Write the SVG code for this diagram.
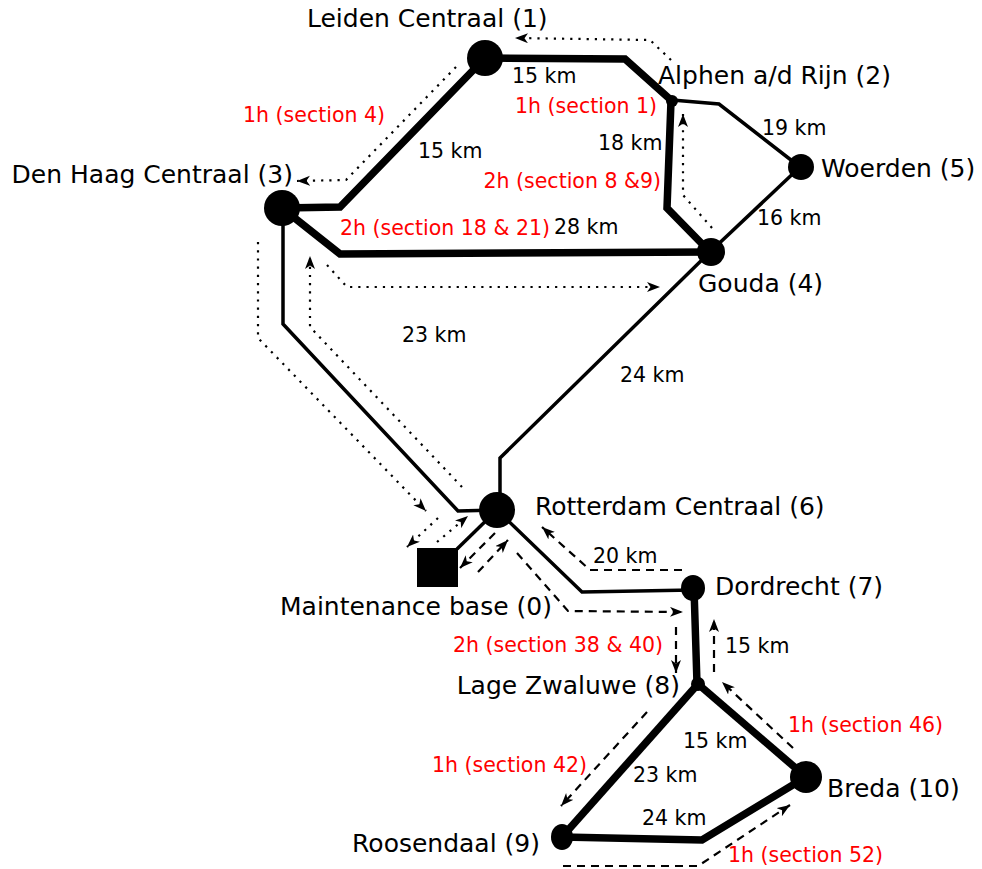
<svg xmlns="http://www.w3.org/2000/svg" width="982" height="869" viewBox="0 0 982 869">
<defs>
<marker id="arr" markerUnits="userSpaceOnUse" markerWidth="14" markerHeight="11" refX="13" refY="5" orient="auto">
<path d="M0,0 L13,5 L0,10 L3.5,5 z" fill="#000"/>
</marker>
<style>
text{font-family:"DejaVu Sans","Liberation Sans",sans-serif;fill:#000}
.st{font-size:25px}
.km{font-size:20.5px}
.red{font-size:20.5px;fill:#ff0000}
.thick{fill:none;stroke:#000;stroke-width:7.5;stroke-linejoin:miter}
.thin{fill:none;stroke:#000;stroke-width:3.5;stroke-linejoin:miter}
.dot{fill:none;stroke:#000;stroke-width:2.2;stroke-dasharray:2.2 6;marker-end:url(#arr)}
.dash{fill:none;stroke:#000;stroke-width:2.2;stroke-dasharray:8 6;marker-end:url(#arr)}
.n{fill:#000}
</style>
</defs>
<rect width="982" height="869" fill="#fff"/>
<g id="connectors">
<path class="thick" d="M485,58 L625,59 L672,101"/>
<path class="thin" d="M672,100 L719,104 L800,167"/>
<path class="thick" d="M671,101 L667,208 L710,252"/>
<path class="thin" d="M800,167 L710,252"/>
<path class="thick" d="M485,58 L340,207 L282,208"/>
<path class="thick" d="M282,208 L340,254 L710,252"/>
<path class="thin" d="M710,252 L500,458 L500,510"/>
<path class="thin" d="M283,208 L283,324 L458,511 L497,510"/>
<path class="thin" d="M497,510 L457,549"/>
<path class="thin" d="M497,510 L582,592 L693,590"/>
<path class="thick" d="M694,588 L697,684"/>
<path class="thick" d="M698,684 L806,777"/>
<path class="thick" d="M698,684 L562,837"/>
<path class="thick" d="M562,837 L702,840 L806,777"/>
<path class="dot" d="M671,60 L650,40 L515,38"/>
<path class="dot" d="M456,67 L346,180 L297,181"/>
<path class="dot" d="M712,228 L683,195 L683,114"/>
<path class="dot" d="M327,265 L347,287 L660,287"/>
<path class="dot" d="M258,242 L258,338 L426,511"/>
<path class="dot" d="M462,487 L310,327 L310,256"/>
<path class="dot" d="M438,518 L407,547"/>
<path class="dot" d="M437,542 L468,516"/>
<path class="dash" d="M495,533 L460,568"/>
<path class="dash" d="M478,572 L508,540"/>
<path class="dash" d="M682,570 L590,570 L542,527"/>
<path class="dash" d="M517,553 L568,611 L683,612"/>
<path class="dash" d="M676,627 L676,673"/>
<path class="dash" d="M714,672 L714,619"/>
<path class="dash" d="M793,748 L722,682"/>
<path class="dash" d="M647,712 L561,806"/>
<path class="dash" d="M563,866 L698,866 L790,805"/>
<text class="km" x="512" y="83">15 km</text>
<text class="red" x="657" y="113" text-anchor="end">1h (section 1)</text>
<text class="red" x="385" y="122" text-anchor="end">1h (section 4)</text>
<text class="km" x="418" y="158">15 km</text>
<text class="km" x="598" y="150">18 km</text>
<text class="km" x="762" y="135">19 km</text>
<text class="red" x="661" y="188" text-anchor="end">2h (section 8 &amp;9)</text>
<text class="km" x="757" y="225">16 km</text>
<text class="km" x="554" y="234">28 km</text>
<text class="red" x="550" y="235" text-anchor="end">2h (section 18 &amp; 21)</text>
<text class="km" x="402" y="342">23 km</text>
<text class="km" x="620" y="382">24 km</text>
<text class="km" x="593" y="563">20 km</text>
<text class="km" x="725" y="653">15 km</text>
<text class="red" x="663" y="652" text-anchor="end">2h (section 38 &amp; 40)</text>
<text class="red" x="788" y="732">1h (section 46)</text>
<text class="km" x="683" y="748">15 km</text>
<text class="km" x="633" y="782">23 km</text>
<text class="km" x="642" y="825">24 km</text>
<text class="red" x="587" y="772" text-anchor="end">1h (section 42)</text>
<text class="red" x="728" y="862">1h (section 52)</text>
</g>
<g id="node0"><rect class="n" x="417" y="548" width="41" height="39"/><text class="st" x="280" y="615">Maintenance base (0)</text></g>
<g id="node1"><circle class="n" cx="485" cy="58" r="18"/><text class="st" x="307" y="27">Leiden Centraal (1)</text></g>
<g id="node2"><circle class="n" cx="672" cy="101" r="6"/><text class="st" x="658" y="84">Alphen a/d Rijn (2)</text></g>
<g id="node3"><circle class="n" cx="282" cy="208" r="18"/><text class="st" x="293" y="183" text-anchor="end">Den Haag Centraal (3)</text></g>
<g id="node4"><circle class="n" cx="711" cy="252" r="14"/><text class="st" x="698" y="292">Gouda (4)</text></g>
<g id="node5"><circle class="n" cx="801" cy="167" r="13"/><text class="st" x="821" y="177">Woerden (5)</text></g>
<g id="node6"><circle class="n" cx="497" cy="510" r="18"/><text class="st" x="535" y="515">Rotterdam Centraal (6)</text></g>
<g id="node7"><ellipse class="n" cx="693" cy="588" rx="12" ry="13"/><text class="st" x="715" y="595">Dordrecht (7)</text></g>
<g id="node8"><circle class="n" cx="698" cy="684" r="7"/><text class="st" x="680" y="694" text-anchor="end">Lage Zwaluwe (8)</text></g>
<g id="node9"><ellipse class="n" cx="562" cy="837" rx="11" ry="13"/><text class="st" x="540" y="852" text-anchor="end">Roosendaal (9)</text></g>
<g id="node10"><circle class="n" cx="806" cy="777" r="16"/><text class="st" x="827" y="797">Breda (10)</text></g>
</svg>
